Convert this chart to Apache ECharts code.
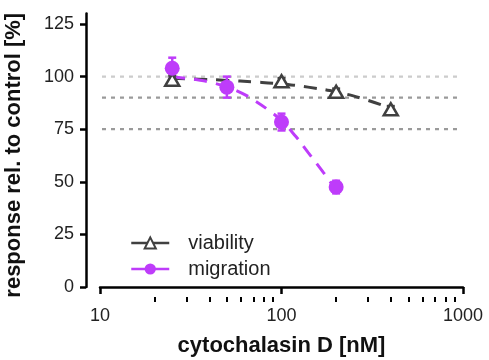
<!DOCTYPE html>
<html><head><meta charset="utf-8">
<script src="https://cdn.jsdelivr.net/npm/echarts@6/dist/echarts.min.js"></script>
<style>html,body{margin:0;padding:0;background:#fff}#c{width:489px;height:360px}</style>
</head><body><div id="c"></div>
<script>
// data
const doses = [25, 100, 200, 400];
const viability = [98.5, 97.8, 92.8, 84.5];
const viabilityErr = [2, 1.5, 1.5, 1.5];
const migDoses = [25, 50, 100, 200];
const migration = [104, 95, 78.4, 47.5];
const migrationErr = [5, 5, 4, 3];
// fitted curves
const viaFitX = [25, 35, 50, 70, 100, 140, 200, 280, 400];
const viaFitY = [99.2, 98.8, 98.2, 97.5, 96.5, 95, 92.7, 89.5, 85];
const migFitX = [25, 30, 35, 42, 50, 60, 70, 85, 100, 120, 140, 170, 200];
const migFitY = [99.8, 99.2, 98.4, 97, 95, 92.3, 89, 84, 79, 71.5, 64, 54.5, 46];
const refLines = [100, 90, 75];
const yTicks = [0, 25, 50, 75, 100, 125];
const xMajor = [10, 100, 1000];
const xMinor = [20, 30, 40, 50, 60, 70, 80, 90, 200, 300, 400, 500, 600, 700, 800, 900];

const GREY = '#404040', PURPLE = '#BE3CFA';
const FONT = 'Liberation Sans';

function errSeries(xs, ys, es, color) {
  return {
    type: 'custom', silent: true, z: 4,
    data: xs.map((x, i) => [x, ys[i] - es[i], ys[i] + es[i]]),
    renderItem: function (params, api) {
      const lo = api.coord([api.value(0), api.value(1)]);
      const hi = api.coord([api.value(0), api.value(2)]);
      const w = 4;
      const st = { stroke: color, lineWidth: 2.5 };
      return { type: 'group', children: [
        { type: 'line', shape: { x1: lo[0], y1: lo[1], x2: hi[0], y2: hi[1] }, style: st },
        { type: 'line', shape: { x1: lo[0] - w, y1: lo[1], x2: lo[0] + w, y2: lo[1] }, style: st },
        { type: 'line', shape: { x1: hi[0] - w, y1: hi[1], x2: hi[0] + w, y2: hi[1] }, style: st }
      ]};
    }
  };
}

const refColors = ['#CCCCCC', '#9A9A9A', '#9A9A9A'];
const refSeries = refLines.map((v, i) => ({
  type: 'line', silent: true, clip: false, symbol: 'none', z: 1,
  data: [[9.15, v], [950, v]],
  lineStyle: { color: refColors[i], width: 2.2, type: [4, 5] }
}));

const chart = echarts.init(document.getElementById('c'), null, { renderer: 'canvas' });
chart.setOption({
  animation: false,
  textStyle: { fontFamily: FONT },
  grid: { left: 100, right: 26, top: 13.5, bottom: 73, containLabel: false, outerBoundsMode: 'none' },
  legend: {
    orient: 'vertical', left: 125, top: 228, itemWidth: 38, itemHeight: 14, itemGap: 6,
    data: ['viability', 'migration'],
    lineStyle: { type: 'solid', width: 2.5, opacity: 1 },
    textStyle: { fontSize: 20, color: '#222', fontFamily: FONT, padding: [0, 0, 0, 14] }
  },
  xAxis: [{
    type: 'log', logBase: 10, min: 10, max: 1000, position: 'bottom', offset: 10,
    name: 'cytochalasin D [nM]', nameLocation: 'middle', nameGap: 38,
    nameTextStyle: { fontSize: 22, fontWeight: 'bold', color: '#111', fontFamily: FONT },
    axisLine: { lineStyle: { color: '#000', width: 2.5 } },
    axisTick: { length: 7, lineStyle: { color: '#000', width: 2.5 }, customValues: xMajor },
    axisLabel: { fontSize: 18, color: '#222', margin: 10, customValues: xMajor, formatter: v => String(v) },
    splitLine: { show: false }
  }, {
    type: 'log', logBase: 10, min: 10, max: 1000, position: 'bottom', offset: 10,
    axisLine: { show: false },
    axisTick: { length: 5, lineStyle: { color: '#000', width: 2 }, customValues: xMinor },
    axisLabel: { show: false },
    splitLine: { show: false }
  }],
  yAxis: {
    type: 'value', min: 0, max: 130, offset: 14,
    name: 'response rel. to control [%]', nameLocation: 'middle', nameGap: 61,
    nameTextStyle: { fontSize: 22, fontWeight: 'bold', color: '#111', fontFamily: FONT, padding: [0, 10, 0, 0] },
    axisLine: { show: true, lineStyle: { color: '#000', width: 2.5 } },
    axisTick: { show: true, length: 6, lineStyle: { color: '#000', width: 2.5 }, customValues: yTicks },
    axisLabel: { fontSize: 18, color: '#222', margin: 12, customValues: yTicks },
    splitLine: { show: false }
  },
  series: [
    ...refSeries,
    { name: 'viability fit', type: 'line', smooth: true, symbol: 'none', z: 2,
      data: viaFitX.map((x, i) => [x, viaFitY[i]]),
      lineStyle: { color: GREY, width: 3, type: [13, 9] } },
    { name: 'migration fit', type: 'line', smooth: true, symbol: 'none', z: 3,
      data: migFitX.map((x, i) => [x, migFitY[i]]),
      lineStyle: { color: PURPLE, width: 3, type: [13, 9] } },
    errSeries(doses, viability, viabilityErr, GREY),
    errSeries(migDoses, migration, migrationErr, PURPLE),
    { name: 'viability', type: 'line', symbol: 'triangle', symbolSize: [14, 12], z: 5,
      data: doses.map((x, i) => [x, viability[i]]),
      lineStyle: { color: GREY, width: 0 },
      itemStyle: { color: '#fff', borderColor: GREY, borderWidth: 2.5 } },
    { name: 'migration', type: 'line', symbol: 'circle', symbolSize: 15, z: 6,
      data: migDoses.map((x, i) => [x, migration[i]]),
      lineStyle: { color: PURPLE, width: 0 },
      itemStyle: { color: PURPLE, borderColor: PURPLE, borderWidth: 0 } }
  ]
});
</script></body></html>
